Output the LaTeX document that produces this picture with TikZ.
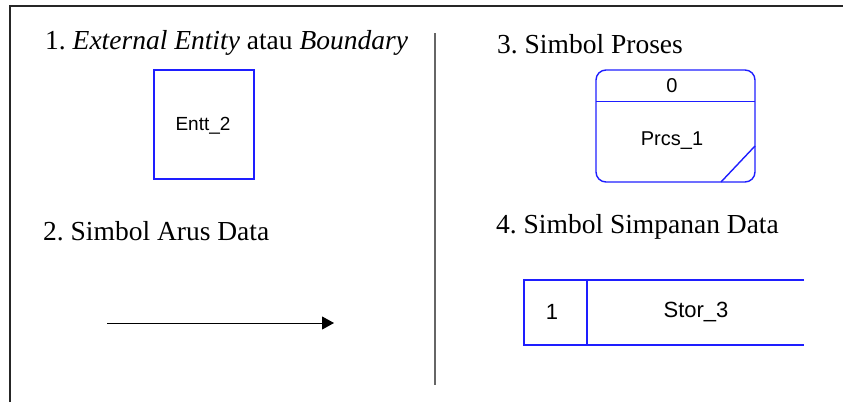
\documentclass[tikz,border=0pt]{standalone}
\usepackage{fontspec}
\setmainfont{Liberation Serif}
\newfontfamily\arialfont{Liberation Sans}
\usetikzlibrary{arrows.meta}
\frenchspacing
\definecolor{symblue}{RGB}{30,30,255}
\tikzset{
  title/.style={anchor=base west, inner sep=0pt, font=\fontsize{27.5}{33}\selectfont},
  lbl/.style={inner sep=0pt, font=\arialfont\fontsize{#1}{#1}\selectfont},
  sym/.style={draw=symblue, line width=1.4pt},
  frame/.style={draw=black!85, line width=1.3pt},
}
\begin{document}
\begin{tikzpicture}[x=1pt, y=-1pt]
\useasboundingbox (0,0) rectangle (843,402);
% frame
\draw[frame] (10,402) -- (10,6) -- (843,6);
\draw[draw=black!60, line width=1.1pt] (435,33) -- (435,385);
% titles
\node[title] (t1) at (45,49) {1. \textit{External Entity} atau \textit{Boundary}};
\node[title] (t2) at (43,240) {2. Simbol Arus Data};
\node[title] (t3) at (497,53) {3. Simbol Proses};
\node[title] (t4) at (496,233) {4. Simbol Simpanan Data};
% entity
\draw[sym] (154,70) rectangle (254,179);
\node[lbl=19] (ent) at (203,126) {Entt\_2};
% data flow arrow
\coordinate (a1) at (107,323);
\coordinate (a2) at (334,323);
\draw[line width=1pt, -{Triangle[length=12pt, width=13pt]}] (a1) -- (a2);
% process
\draw[sym, rounded corners=10pt] (596,70) rectangle (755,182);
\draw[sym] (596,101.5) -- (755,101.5);
\draw[sym] (721,182) -- (755,146);
\node[lbl=20] (pid) at (672,86) {0};
\node[lbl=20] (prc) at (672,141) {Prcs\_1};
% data store
\draw[sym] (804,280) -- (524,280) -- (524,345) -- (804,345);
\draw[sym] (587,280) -- (587,345);
\node[lbl=22] (sid) at (552,312) {1};
\node[lbl=22] (sto) at (696,312) {Stor\_3};
\end{tikzpicture}
\end{document}
